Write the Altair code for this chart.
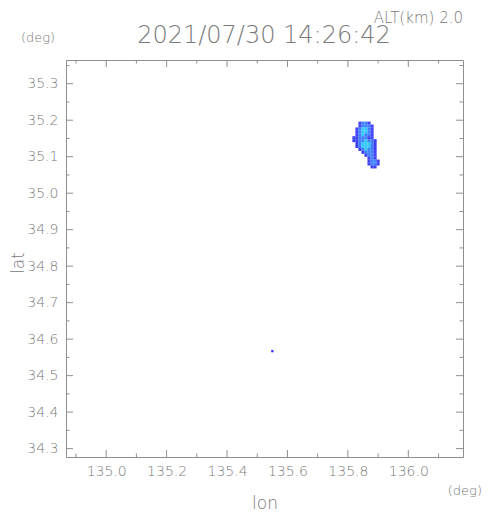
import altair as alt
import pandas as pd

# ---- data ----
col_lons = [135.82, 135.83, 135.84, 135.85, 135.86, 135.87, 135.88, 135.89, 135.90]
row_lats = [35.192, 35.184, 35.176, 35.168, 35.160, 35.152, 35.144, 35.136,
            35.128, 35.120, 35.112, 35.104, 35.096, 35.088, 35.080, 35.072]
grid_rows = [
    "..1221...",
    "..12221..",
    ".123321..",
    ".123321..",
    ".123221..",
    "1122211..",
    "11223221.",
    ".1233321.",
    ".1233321.",
    "..123221.",
    "...12221.",
    "....1221.",
    ".....121.",
    ".....1221",
    ".....1221",
    "......11.",
]
dot_lon = [135.55]
dot_lat = [34.567]

x_major = [135.0, 135.2, 135.4, 135.6, 135.8, 136.0]
x_minor = [134.9, 135.1, 135.3, 135.5, 135.7, 135.9, 136.1]
y_major = [34.3, 34.4, 34.5, 34.6, 34.7, 34.8, 34.9, 35.0, 35.1, 35.2, 35.3]
y_minor = [34.35, 34.45, 34.55, 34.65, 34.75, 34.85, 34.95, 35.05, 35.15, 35.25, 35.35]

title_text = "2021/07/30 14:26:42"
alt_text = "ALT(km) 2.0"

# ---- layout / style ----
W, H = 397, 397
HALF_LON, HALF_LAT = 0.0052, 0.0042
GRAY = "#8f8f8f"
TXT = "#7a7a7a"
FONT = "DejaVu Sans"
WEIGHT = 200
level_colors = ["#4040f4", "#3f80fc", "#38c8fc"]

cells = []
for j, row in enumerate(grid_rows):
    for i, ch in enumerate(row):
        if ch != ".":
            cells.append({"lon": col_lons[i], "lat": row_lats[j], "level": ch})
cells_df = pd.DataFrame(cells)

xs = alt.Scale(domain=[134.867, 136.181], zero=False, nice=False)
ys = alt.Scale(domain=[34.277, 35.365], zero=False, nice=False)

x_axis = alt.Axis(values=x_major, format=".1f", ticks=False, domain=False, grid=False,
                  tickSize=0, labelPadding=7, labelFontSize=14, labelColor=TXT,
                  labelFont=FONT, labelFontWeight=WEIGHT, title=None,
                  labelBaseline="top", labelOverlap=False)
y_axis = alt.Axis(values=y_major, format=".1f", ticks=False, domain=False, grid=False,
                  tickSize=0, labelPadding=8, labelFontSize=14, labelColor=TXT,
                  labelFont=FONT, labelFontWeight=WEIGHT, title=None,
                  labelOverlap=False)

rects = alt.Chart(cells_df).transform_calculate(
    x0=f"datum.lon - {HALF_LON}", x1=f"datum.lon + {HALF_LON}",
    y0=f"datum.lat - {HALF_LAT}", y1=f"datum.lat + {HALF_LAT}",
).mark_rect(strokeWidth=0).encode(
    x=alt.X("x0:Q", scale=xs, axis=x_axis),
    x2="x1:Q",
    y=alt.Y("y0:Q", scale=ys, axis=y_axis),
    y2="y1:Q",
    color=alt.Color("level:N", scale=alt.Scale(domain=["1", "2", "3"], range=level_colors),
                    legend=None),
)

dot = alt.Chart(pd.DataFrame({"lon": dot_lon, "lat": dot_lat})).mark_square(
    size=5, color="#2a2aff", opacity=1).encode(
    x=alt.X("lon:Q", scale=xs, axis=x_axis), y=alt.Y("lat:Q", scale=ys, axis=y_axis))


def xticks(vals, length):
    d = pd.DataFrame({"lon": vals})
    b = alt.Chart(d).mark_rule(color=GRAY, strokeWidth=1).encode(
        x=alt.X("lon:Q", scale=xs, axis=x_axis), y=alt.value(H), y2=alt.value(H - length))
    t = alt.Chart(d).mark_rule(color=GRAY, strokeWidth=1).encode(
        x=alt.X("lon:Q", scale=xs, axis=x_axis), y=alt.value(0), y2=alt.value(length))
    return [b, t]


def yticks(vals, length):
    d = pd.DataFrame({"lat": vals})
    l = alt.Chart(d).mark_rule(color=GRAY, strokeWidth=1).encode(
        y=alt.Y("lat:Q", scale=ys, axis=y_axis), x=alt.value(0), x2=alt.value(length))
    r = alt.Chart(d).mark_rule(color=GRAY, strokeWidth=1).encode(
        y=alt.Y("lat:Q", scale=ys, axis=y_axis), x=alt.value(W), x2=alt.value(W - length))
    return [l, r]


def label(text, x, y, size, align="center", angle=0):
    return alt.Chart(alt.Data(values=[{}])).mark_text(
        text=text, fontSize=size, font=FONT, fontWeight=WEIGHT, color=TXT, align=align,
        baseline="middle", angle=angle).encode(x=alt.value(x), y=alt.value(y))


layers = [rects, dot]
layers += xticks(x_major, 7) + xticks(x_minor, 3.5)
layers += yticks(y_major, 7) + yticks(y_minor, 3.5)
layers += [
    label(title_text, 198, -24, 24),
    label(alt_text, 397, -42, 15, align="right"),
    label("(deg)", -28, -22, 13),
    label("(deg)", 416, 431, 13, align="right"),
    label("lon", 199, 444, 17),
    label("lat", -47, 203, 17, angle=270),
]

chart = alt.layer(*layers).properties(
    width=W, height=H,
    autosize=alt.AutoSizeParams(type="none"),
    padding={"left": 58, "top": 52, "right": 20, "bottom": 56},
).configure_view(stroke=GRAY, strokeWidth=1)

chart.save("out.html", embed_options={"renderer": "svg", "actions": False})
